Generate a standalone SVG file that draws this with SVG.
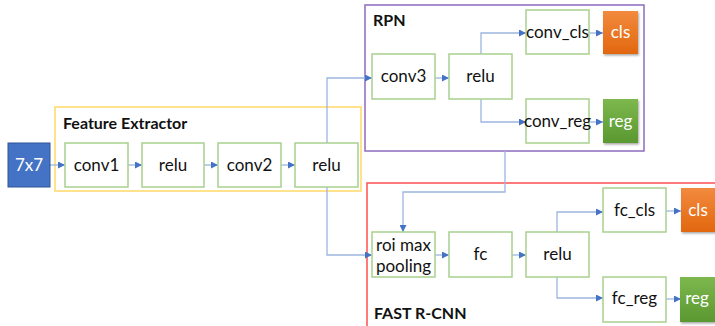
<svg xmlns="http://www.w3.org/2000/svg" width="715" height="326" viewBox="0 0 715 326">
<defs>
<linearGradient id="gO" x1="0" y1="0" x2="0" y2="1"><stop offset="0" stop-color="#F28A3E"/><stop offset="1" stop-color="#E2670F"/></linearGradient>
<linearGradient id="gG" x1="0" y1="0" x2="0" y2="1"><stop offset="0" stop-color="#7DB84E"/><stop offset="1" stop-color="#5A9830"/></linearGradient>
<marker id="ar" viewBox="0 0 10 10" refX="10" refY="5" markerWidth="7" markerHeight="7" markerUnits="userSpaceOnUse" orient="auto"><path d="M0,0 L10,5 L0,10 z" fill="#4472C4"/></marker>
<filter id="sh" x="-20%" y="-20%" width="150%" height="150%"><feDropShadow dx="1" dy="1.5" stdDeviation="1" flood-color="#000" flood-opacity="0.35"/></filter>
</defs>
<style>
.n{fill:#fff;stroke:#A9D18E;stroke-width:1.5}
.t{font-family:Lato,"Liberation Sans",sans-serif;font-size:17px;fill:#111;text-anchor:middle}
.w{font-family:Lato,"Liberation Sans",sans-serif;font-size:17px;fill:#fff;text-anchor:middle}
.h{font-family:Lato,"Liberation Sans",sans-serif;font-size:16px;font-weight:bold;fill:#111}
.c{fill:none;stroke:#9DB5E0;stroke-width:1.3;marker-end:url(#ar)}
</style>
<rect x="0" y="0" width="715" height="326" fill="#fff"/>
<g id="feature-extractor"><rect x="55" y="107" width="306" height="84" fill="none" stroke="#FFD966" stroke-width="1.5"/><text class="h" x="63" y="129">Feature Extractor</text></g>
<g id="rpn"><rect x="365" y="5" width="279" height="146" fill="none" stroke="#8E6BBE" stroke-width="1.5"/><text class="h" x="373" y="26">RPN</text></g>
<g id="fast-rcnn"><rect x="367" y="183" width="352" height="150" fill="none" stroke="#FF5050" stroke-width="1.5"/><text class="h" x="374" y="319">FAST R-CNN</text></g>
<g id="connectors">
<path class="c" d="M50,165 H65"/>
<path class="c" d="M128,165 H142"/>
<path class="c" d="M204,165 H218"/>
<path class="c" d="M281,165 H295"/>
<path class="c" d="M327,143 V78 H372"/>
<path class="c" d="M327,187 V255 H372"/>
<path class="c" d="M435,78 H449"/>
<path class="c" d="M481,54 V33 H526"/>
<path class="c" d="M481,99 V122 H526"/>
<path class="c" d="M589,33 H603"/>
<path class="c" d="M589,122 H603"/>
<path class="c" d="M505,151 V192 H403 V232"/>
<path class="c" d="M435,255 H449"/>
<path class="c" d="M512,255 H526"/>
<path class="c" d="M557,232 V212 H603"/>
<path class="c" d="M557,277 V298 H603"/>
<path class="c" d="M666,211 H681"/>
<path class="c" d="M666,299 H681"/>
</g>
<g id="input"><rect x="8" y="143" width="42" height="44" fill="#4472C4" stroke="#2F5597" stroke-width="1"/><text class="w" x="29" y="171">7x7</text></g>
<g id="conv1"><rect class="n" x="65" y="143" width="63" height="44"/><text class="t" x="96.5" y="171">conv1</text></g>
<g id="relu1"><rect class="n" x="142" y="143" width="62" height="44"/><text class="t" x="173" y="171">relu</text></g>
<g id="conv2"><rect class="n" x="218" y="143" width="63" height="44"/><text class="t" x="249.5" y="171">conv2</text></g>
<g id="relu2"><rect class="n" x="295" y="143" width="63" height="44"/><text class="t" x="326.5" y="171">relu</text></g>
<g id="conv3"><rect class="n" x="372" y="54" width="63" height="45"/><text class="t" x="403.5" y="82">conv3</text></g>
<g id="relu3"><rect class="n" x="449" y="54" width="63" height="45"/><text class="t" x="480.5" y="82">relu</text></g>
<g id="conv_cls"><rect class="n" x="526" y="10" width="63" height="44"/><text class="t" x="557.5" y="38">conv_cls</text></g>
<g id="conv_reg"><rect class="n" x="526" y="99" width="63" height="44"/><text class="t" x="557.5" y="127">conv_reg</text></g>
<g id="rpn_cls"><rect x="603" y="11" width="35" height="43" fill="url(#gO)" filter="url(#sh)"/><text class="w" x="620.5" y="38">cls</text></g>
<g id="rpn_reg"><rect x="603" y="99" width="35" height="44" fill="url(#gG)" filter="url(#sh)"/><text class="w" x="620.5" y="127">reg</text></g>
<g id="roi"><rect class="n" x="372" y="232" width="63" height="45"/><text class="t" x="403.5" y="251">roi max</text><text class="t" x="403.5" y="272">pooling</text></g>
<g id="fc"><rect class="n" x="449" y="232" width="63" height="45"/><text class="t" x="480.5" y="260">fc</text></g>
<g id="relu4"><rect class="n" x="526" y="232" width="63" height="45"/><text class="t" x="557.5" y="260">relu</text></g>
<g id="fc_cls"><rect class="n" x="603" y="188" width="63" height="44"/><text class="t" x="634.5" y="216">fc_cls</text></g>
<g id="fc_reg"><rect class="n" x="603" y="277" width="63" height="45"/><text class="t" x="634.5" y="304">fc_reg</text></g>
<g id="cls"><rect x="681" y="188" width="40" height="44" fill="url(#gO)" filter="url(#sh)"/><text class="w" x="698" y="216">cls</text></g>
<g id="reg"><rect x="680" y="277" width="40" height="45" fill="url(#gG)" filter="url(#sh)"/><text class="w" x="697" y="304">reg</text></g>
</svg>
